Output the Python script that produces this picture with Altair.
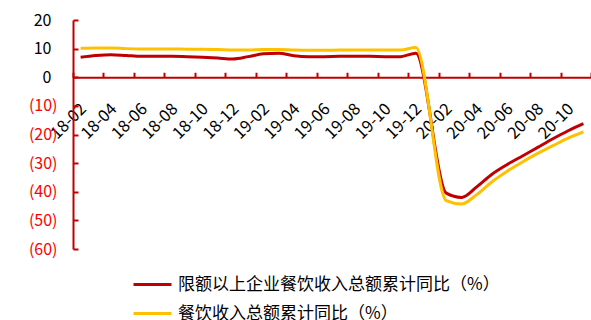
import altair as alt
import pandas as pd

months = ['18-02', '18-03', '18-04', '18-05', '18-06', '18-07', '18-08', '18-09', '18-10', '18-11', '18-12',
          '19-01', '19-02', '19-03', '19-04', '19-05', '19-06', '19-07', '19-08', '19-09', '19-10', '19-11', '19-12',
          '20-01', '20-02', '20-03', '20-04', '20-05', '20-06', '20-07', '20-08', '20-09', '20-10', '20-11']
red_vals = [7.0, 7.6, 7.9, 7.6, 7.3, 7.3, 7.3, 7.2, 7.0, 6.7, 6.4,
            7.2, 8.2, 8.4, 7.5, 7.2, 7.2, 7.3, 7.3, 7.3, 7.2, 7.2, 8.4,
            None, -40.5, -42.0, -38.3, -33.9, -30.5, -27.5, -24.5, -21.5, -18.7, -16.2]
yellow_vals = [10.1, 10.2, 10.2, 10.0, 9.9, 9.9, 9.9, 9.8, 9.8, 9.7, 9.5,
               9.5, 9.7, 9.7, 9.5, 9.4, 9.4, 9.5, 9.5, 9.5, 9.5, 9.5, 10.4,
               None, -43.1, -44.3, -41.0, -36.5, -32.8, -29.6, -26.6, -23.9, -21.3, -19.1]
series_names = ['限额以上企业餐饮收入总额累计同比（%）', '餐饮收入总额累计同比（%）']
series_colors = ['#C00000', '#FFC000']
y_ticks = [20, 10, 0, -10, -20, -30, -40, -50, -60]

rows = []
for i, m in enumerate(months):
    for name, vals in zip(series_names, [red_vals, yellow_vals]):
        if vals[i] is not None:
            rows.append({'idx': i, 'month': m, 'series': name, 'value': vals[i]})
df = pd.DataFrame(rows)

W, H = 518, 229
n = len(months)
FONT = 'Noto Sans CJK SC'
AXIS_RED = '#C00000'

x_scale = alt.Scale(domain=[-0.5, n - 0.5], nice=False, zero=False)
y_scale = alt.Scale(domain=[-60, 20], nice=False, zero=False)
color_scale = alt.Scale(domain=series_names, range=series_colors)

label_array = '[' + ','.join("'%s'" % m for m in months) + ']'
boundary_ticks = [k - 0.5 for k in range(0, n + 1, 2)]
label_positions = list(range(0, n, 2))
zero_off = H * 20 / 80

lines = alt.Chart(df).mark_line(strokeWidth=3, interpolate='monotone').encode(
    x=alt.X('idx:Q', scale=x_scale,
            axis=alt.Axis(orient='top', offset=-zero_off, values=boundary_ticks, labels=False,
                          ticks=True, tickSize=5, tickColor=AXIS_RED, tickWidth=2,
                          domainColor=AXIS_RED, domainWidth=2, grid=False, title=None)),
    y=alt.Y('value:Q', scale=y_scale,
            axis=alt.Axis(orient='left', values=y_ticks, ticks=False,
                          labelExpr="datum.value < 0 ? '(' + format(-datum.value, 'd') + ')' : format(datum.value, 'd')",
                          labelColor={'condition': {'test': 'datum.value < 0', 'value': '#FF0000'}, 'value': '#000000'},
                          labelPadding={'condition': {'test': 'datum.value < 0', 'value': 16}, 'value': 22},
                          labelFontSize=16, labelFont=FONT,
                          domainColor=AXIS_RED, domainWidth=2, grid=False, title=None)),
    color=alt.Color('series:N', scale=color_scale,
                    legend=alt.Legend(orient='none', legendX=58, legendY=256, title=None,
                                      symbolType='M-1,0H5.33', symbolSize=144, symbolStrokeWidth=3,
                                      labelOffset=30, labelFontSize=17, labelFont=FONT, labelColor='#000000',
                                      labelLimit=0, padding=0, rowPadding=11)),
)

ghost = alt.Chart(df).mark_point(opacity=0).encode(
    x=alt.X('idx:Q', scale=x_scale,
            axis=alt.Axis(orient='bottom', offset=-(H - zero_off), values=label_positions,
                          labelExpr=label_array + '[datum.value]', labelAngle=-45,
                          labelAlign='right', labelBaseline='top',
                          labelOverlap=False, labelBound=False, labelOffset=-3,
                          labelFontSize=16.5, labelFont=FONT, labelColor='#000000', labelPadding=23,
                          domain=False, ticks=False, grid=False, title=None)),
    y=alt.Y('value:Q', scale=y_scale,
            axis=alt.Axis(orient='right', offset=-W, values=y_ticks, labels=False,
                          ticks=True, tickSize=5, tickColor=AXIS_RED, tickWidth=2,
                          domain=False, grid=False, title=None)),
)

chart = alt.layer(lines, ghost).resolve_axis(x='independent', y='independent').properties(
    width=W, height=H,
    autosize=alt.AutoSizeParams(type='none'),
    padding={'left': 73, 'top': 20, 'right': 0, 'bottom': 71},
).configure_view(stroke=None)

chart.save("out.html", embed_options={"renderer": "svg", "actions": False})
